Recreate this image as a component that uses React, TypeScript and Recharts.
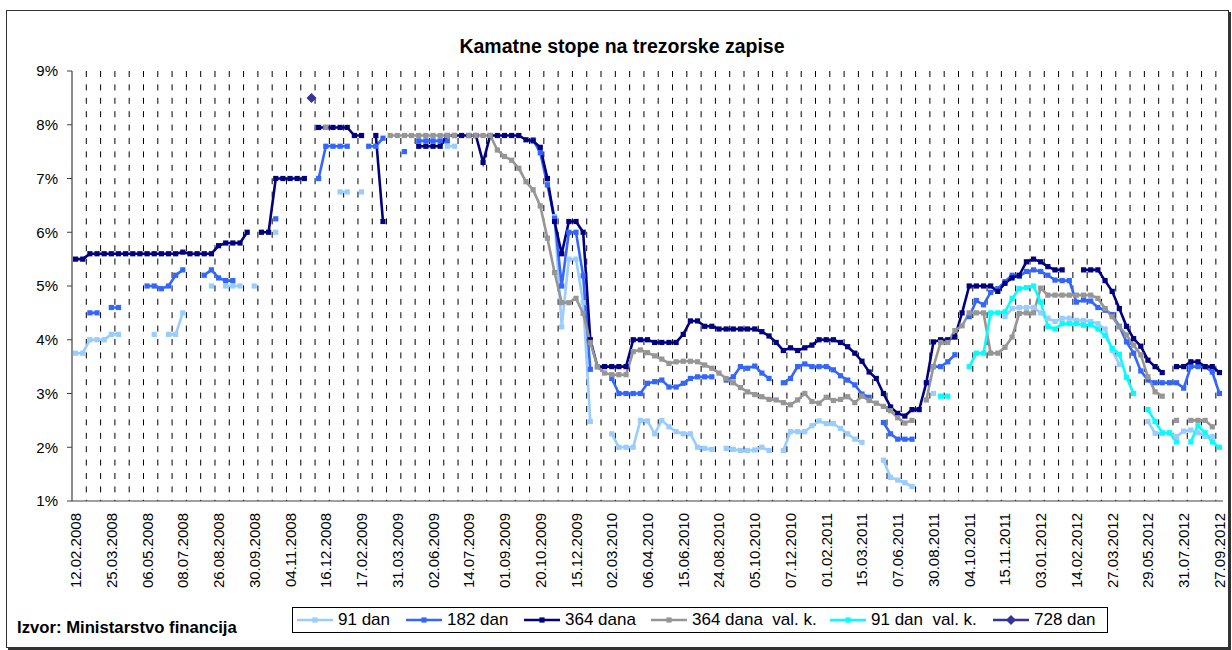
import React from 'react';
import { LineChart, Line, XAxis, YAxis, ReferenceLine } from 'recharts';

// Category axis: auction dates; every 5th category carries a label
const tickLabels = [
  '12.02.2008', '25.03.2008', '06.05.2008', '08.07.2008', '26.08.2008', '30.09.2008',
  '04.11.2008', '16.12.2008', '17.02.2009', '31.03.2009', '02.06.2009', '14.07.2009',
  '01.09.2009', '20.10.2009', '15.12.2009', '02.03.2010', '06.04.2010', '15.06.2010',
  '24.08.2010', '05.10.2010', '07.12.2010', '01.02.2011', '15.03.2011', '07.06.2011',
  '30.08.2011', '04.10.2011', '15.11.2011', '03.01.2012', '14.02.2012', '27.03.2012',
  '29.05.2012', '31.07.2012', '27.09.2012',
];
const CATEGORY_COUNT = 161;
const yTicks = [1, 2, 3, 4, 5, 6, 7, 8, 9];

const _ = null;

const s91: (number | null)[] = [
  3.75, 3.75, 4.0, 4.0, 4.0, 4.1, 4.1, _, _, _,
  _, 4.1, _, 4.1, 4.1, 4.5, _, _, _, 5.0,
  _, 5.0, 5.0, 5.0, _, 5.0, _, _, 6.0, _,
  _, _, _, _, _, _, _, 6.75, 6.75, _,
  6.75, _, _, _, _, _, _, _, _, _,
  _, _, 7.6, 7.6, _, _, _, _, _, _,
  _, _, _, _, _, _, 6.9, 6.29, 4.24, 5.5,
  5.5, 4.69, 2.48, _, _, 2.25, 2.0, 2.0, 2.0, 2.5,
  2.49, 2.25, 2.5, 2.38, 2.29, 2.25, 2.25, 2.0, 1.98, 1.96,
  _, 1.98, 1.96, 1.94, 1.94, 1.95, 2.0, 1.94, _, 1.94,
  2.29, 2.29, 2.29, 2.4, 2.49, 2.44, 2.44, 2.35, 2.25, 2.15,
  2.09, _, _, 1.76, 1.44, 1.39, 1.34, 1.27, _, _,
  3.0, _, _, _, _, _, _, _, _, _,
  4.43, 4.58, 4.6, 4.6, 4.6, 4.5, 4.4, 4.34, 4.4, 4.4,
  4.36, 4.36, 4.34, 4.3, 4.2, 3.8, 3.54, _, _, _,
  2.48, 2.26, 2.26, 2.26, 2.2, 2.3, 2.32, 2.27, 2.2, 2.2,
  _,
];

const s182: (number | null)[] = [
  _, _, 4.5, 4.5, _, 4.6, 4.6, _, _, _,
  5.0, 5.0, 4.95, 5.0, 5.2, 5.3, _, _, 5.2, 5.3,
  5.15, 5.1, 5.1, _, _, _, _, _, 6.25, _,
  _, _, _, _, 7.0, 7.6, 7.6, 7.6, 7.6, _,
  _, 7.6, 7.6, 7.75, _, _, 7.5, _, 7.7, 7.7,
  7.7, 7.7, 7.7, _, _, _, _, _, _, _,
  _, _, _, _, 7.72, 7.48, 6.88, 6.26, 5.0, 6.0,
  6.0, 5.19, 3.45, _, _, 3.28, 3.0, 3.0, 3.0, 3.0,
  3.19, 3.22, 3.25, 3.12, 3.12, 3.19, 3.28, 3.31, 3.31, 3.31,
  _, 3.25, 3.31, 3.5, 3.47, 3.51, 3.38, 3.28, _, 3.2,
  3.28, 3.5, 3.55, 3.5, 3.5, 3.5, 3.44, 3.33, 3.25, 3.16,
  2.99, 2.93, _, 2.46, 2.25, 2.15, 2.15, 2.15, _, _,
  3.5, 3.5, 3.59, 3.72, _, 4.43, 4.73, 4.65, 4.88, 4.95,
  5.08, 5.2, 5.18, 5.27, 5.3, 5.27, 5.2, 5.11, 5.1, 5.1,
  4.7, 4.74, 4.72, 4.6, 4.55, 4.47, 4.25, 3.96, 3.75, 3.42,
  3.25, 3.2, 3.2, 3.2, 3.2, 3.1, 3.5, 3.5, 3.5, 3.4,
  3.0,
];

const s364: (number | null)[] = [
  5.5, 5.5, 5.6, 5.6, 5.6, 5.6, 5.6, 5.6, 5.6, 5.6,
  5.6, 5.6, 5.6, 5.6, 5.6, 5.63, 5.6, 5.6, 5.6, 5.6,
  5.75, 5.8, 5.8, 5.8, 6.0, _, 6.0, 6.0, 7.0, 7.0,
  7.0, 7.0, 7.0, _, 7.95, 7.95, 7.95, 7.95, 7.95, 7.8,
  7.8, _, 7.8, 6.2, _, _, _, _, 7.6, 7.6,
  7.6, 7.6, 7.8, 7.8, 7.8, 7.8, 7.8, 7.3, 7.8, 7.8,
  7.8, 7.8, 7.8, 7.72, 7.7, 7.58, 7.0, 6.2, 5.6, 6.2,
  6.2, 6.0, 4.0, 3.5, 3.5, 3.5, 3.5, 3.5, 4.0, 4.0,
  4.0, 3.95, 3.95, 3.95, 3.95, 4.1, 4.35, 4.35, 4.25, 4.25,
  4.2, 4.2, 4.2, 4.2, 4.2, 4.2, 4.15, 4.07, 3.95, 3.8,
  3.85, 3.8, 3.85, 3.9, 4.0, 4.0, 4.0, 3.95, 3.87, 3.75,
  3.6, 3.4, 3.28, 3.0, 2.75, 2.63, 2.58, 2.7, 2.7, 3.2,
  3.96, 4.0, 4.0, 4.05, 4.5, 5.0, 5.0, 5.0, 5.0, 4.9,
  5.05, 5.15, 5.2, 5.45, 5.5, 5.45, 5.36, 5.3, 5.3, _,
  _, 5.3, 5.3, 5.3, 5.1, 4.9, 4.58, 4.25, 4.02, 3.88,
  3.62, 3.5, 3.39, _, 3.5, 3.5, 3.59, 3.59, 3.5, 3.5,
  3.39,
];

const s364fx: (number | null)[] = [
  _, _, _, _, _, _, _, _, _, _,
  _, _, _, _, _, _, _, _, _, _,
  _, _, _, _, _, _, _, _, _, _,
  _, _, _, _, _, 7.95, _, _, _, _,
  _, _, _, _, 7.8, 7.8, 7.8, 7.8, 7.8, 7.8,
  7.8, 7.8, 7.8, 7.8, _, 7.8, 7.8, 7.8, 7.8, 7.53,
  7.41, 7.34, 7.19, 6.94, 6.79, 6.49, 5.89, 5.25, 4.69, 4.69,
  4.77, 4.49, 3.95, 3.5, 3.38, 3.35, 3.35, 3.35, 3.78, 3.81,
  3.76, 3.7, 3.64, 3.56, 3.59, 3.6, 3.6, 3.59, 3.53, 3.47,
  3.38, 3.28, 3.2, 3.11, 3.03, 2.98, 2.94, 2.89, 2.88, 2.83,
  2.79, 2.88, 3.0, 2.85, 2.82, 2.93, 2.87, 2.89, 2.94, 2.83,
  2.95, 2.87, 2.82, 2.76, 2.68, 2.55, 2.45, 2.5, _, 2.88,
  3.5, 3.95, 3.95, 4.17, 4.26, 4.5, 4.5, 4.5, 3.75, 3.75,
  3.86, 4.05, 4.49, 4.5, 4.5, 4.96, 4.83, 4.83, 4.83, 4.83,
  4.83, 4.83, 4.83, 4.77, 4.58, 4.43, 4.24, 4.09, 3.9, 3.72,
  3.31, 3.03, 2.95, _, 2.5, _, 2.5, 2.5, 2.5, 2.38,
  _,
];

const s91fx: (number | null)[] = [
  _, _, _, _, _, _, _, _, _, _,
  _, _, _, _, _, _, _, _, _, _,
  _, _, _, _, _, _, _, _, _, _,
  _, _, _, _, _, _, _, _, _, _,
  _, _, _, _, _, _, _, _, _, _,
  _, _, _, _, _, _, _, _, _, _,
  _, _, _, _, _, _, _, _, _, _,
  _, _, _, _, _, _, _, _, _, _,
  _, _, _, _, _, _, _, _, _, _,
  _, _, _, _, _, _, _, _, _, _,
  _, _, _, _, _, _, _, _, _, _,
  _, _, _, _, _, _, _, _, _, _,
  _, 2.95, 2.95, _, _, 3.5, 3.75, 3.75, 4.5, 4.5,
  4.52, 4.77, 4.95, 4.97, 5.0, 4.7, 4.25, 4.2, 4.3, 4.3,
  4.3, 4.27, 4.28, 4.2, 4.08, 3.84, 3.73, 3.3, 3.0, _,
  2.7, 2.48, 2.27, 2.27, 2.1, _, 2.1, 2.4, 2.27, 2.1,
  2.0,
];

// 728-day bill: a single auction
const s728Index = [33];
const s728Value = [8.5];

const categories = Array.from({ length: CATEGORY_COUNT }, (_v, i) => i);
const data = categories.map((i) => {
  const k = s728Index.indexOf(i);
  return {
    x: i + 0.5,
    d91: s91[i] ?? null,
    d182: s182[i] ?? null,
    d364: s364[i] ?? null,
    d364fx: s364fx[i] ?? null,
    d91fx: s91fx[i] ?? null,
    d728: k >= 0 ? s728Value[k] : null,
  };
});

// tick marks / dashed gridlines every second category boundary
const gridTicks = categories.filter((i) => i % 2 === 0);
const gridLinePositions = gridTicks.filter((t) => t > 0);
const labelTicks = tickLabels.map((_l, k) => k * 5 + 0.5);

const series = [
  { key: 'd91', name: '91 dan', color: '#99CCFF', marker: 'square' },
  { key: 'd182', name: '182 dan', color: '#3366FF', marker: 'square' },
  { key: 'd364', name: '364 dana', color: '#000080', marker: 'square' },
  { key: 'd364fx', name: '364 dana  val. k.', color: '#969696', marker: 'square' },
  { key: 'd91fx', name: '91 dan  val. k.', color: '#00FFFF', marker: 'square' },
  { key: 'd728', name: '728 dan', color: '#333399', marker: 'diamond' },
];

// left edge of each legend entry's text
const legendTextLeft = [338, 447, 565, 692, 871, 1034];

const FONT = '"Liberation Sans", Arial, sans-serif';

const makeDot = (color: string, marker: string) => (props: any) => {
  const { cx, cy, value, index } = props;
  if (value == null || cx == null || cy == null || Number.isNaN(cy)) return <g key={`e${index}`} />;
  if (marker === 'diamond') {
    const r = 5;
    return (
      <path
        key={`d${index}`}
        d={`M${cx},${cy - r}L${cx + r},${cy}L${cx},${cy + r}L${cx - r},${cy}Z`}
        fill={color}
      />
    );
  }
  return <rect key={`d${index}`} x={cx - 2.6} y={cy - 2.6} width={5.2} height={5.2} fill={color} />;
};

const DateTick = (props: any) => {
  const { x, y, payload } = props;
  const k = Math.round((payload.value - 0.5) / 5);
  const ty = y + 6;
  return (
    <text
      x={x}
      y={ty}
      transform={`rotate(-90 ${x} ${ty})`}
      textAnchor="end"
      dominantBaseline="central"
      fontSize={15}
      fontFamily={FONT}
      fill="#000"
    >
      {tickLabels[k]}
    </text>
  );
};

const DashedGridLine = (p: any) => {
  const y1 = Math.min(p.y1, p.y2);
  const y2 = Math.max(p.y1, p.y2);
  return (
    <line
      x1={p.x1}
      x2={p.x2}
      y1={y1}
      y2={y2}
      stroke="#000"
      strokeWidth={1}
      strokeDasharray="6 7.4"
    />
  );
};

const LegendIcon = ({ color, marker }: { color: string; marker: string }) => (
  <svg width={36} height={12} style={{ display: 'block' }}>
    <line x1={0} y1={6} x2={36} y2={6} stroke={color} strokeWidth={2.5} />
    {marker === 'diamond' ? (
      <path d="M18,1L23,6L18,11L13,6Z" fill={color} />
    ) : (
      <rect x={15.4} y={3.4} width={5.2} height={5.2} fill={color} />
    )}
  </svg>
);

export default function App() {
  return (
    <div
      style={{
        position: 'absolute',
        left: 0,
        top: 0,
        width: 1232,
        height: 650,
        background: '#fff',
        fontFamily: FONT,
        overflow: 'hidden',
      }}
    >
      <div
        style={{
          position: 'absolute',
          left: 6,
          top: 10,
          width: 1221,
          height: 636,
          border: '1.5px solid #333',
          boxShadow: '2px 2px 0 #333',
        }}
      />
      <div
        style={{
          position: 'absolute',
          left: 0,
          width: 1232,
          top: 34,
          textAlign: 'center',
          fontSize: 19.5,
          fontWeight: 'bold',
          color: '#000',
          paddingLeft: 6,
          lineHeight: '24px',
        }}
      >
        Kamatne stope na trezorske zapise
      </div>
      <div style={{ position: 'absolute', left: 0, top: 0 }}>
        <LineChart
          width={1232}
          height={650}
          data={data}
          margin={{ top: 71, right: 9, left: 0, bottom: 53 }}
        >
          <XAxis
            dataKey="x"
            type="number"
            domain={[0, CATEGORY_COUNT]}
            ticks={gridTicks}
            interval={0}
            tick={false}
            tickSize={5}
            height={6}
            axisLine={{ stroke: '#404040', strokeWidth: 1.2 }}
            tickLine={{ stroke: '#404040' }}
            allowDataOverflow
          />
          <XAxis
            xAxisId="lab"
            dataKey="x"
            type="number"
            domain={[0, CATEGORY_COUNT]}
            ticks={labelTicks}
            interval={0}
            axisLine={false}
            tickLine={false}
            tickSize={0}
            tickMargin={0}
            height={90}
            tick={<DateTick />}
            allowDataOverflow
          />
          <YAxis
            type="number"
            domain={[1, 9]}
            ticks={yTicks}
            interval={0}
            width={72}
            tickSize={5}
            tickMargin={9}
            tickFormatter={(v: number) => `${v}%`}
            tick={{ fontSize: 15, fill: '#000', fontFamily: FONT }}
            axisLine={{ stroke: '#404040', strokeWidth: 1.2 }}
            tickLine={{ stroke: '#404040' }}
            allowDataOverflow
          />
          {gridLinePositions.map((t) => (
            <ReferenceLine key={`g${t}`} x={t} shape={DashedGridLine} />
          ))}
          {series.map((s) => (
            <Line
              key={s.key}
              dataKey={s.key}
              name={s.name}
              type="linear"
              stroke={s.color}
              strokeWidth={2.6}
              connectNulls={false}
              dot={makeDot(s.color, s.marker)}
              activeDot={false}
              isAnimationActive={false}
            />
          ))}
        </LineChart>
      </div>
      <div
        style={{
          position: 'absolute',
          left: 292,
          top: 607,
          width: 816,
          height: 26,
          border: '1px solid #000',
          boxSizing: 'border-box',
        }}
      />
      {series.map((s, i) => (
        <React.Fragment key={s.key}>
          <div style={{ position: 'absolute', left: legendTextLeft[i] - 41, top: 614 }}>
            <LegendIcon color={s.color} marker={s.marker} />
          </div>
          <div
            style={{
              position: 'absolute',
              left: legendTextLeft[i],
              top: 610,
              fontSize: 17,
              color: '#000',
              whiteSpace: 'pre',
              lineHeight: '20px',
            }}
          >
            {s.name}
          </div>
        </React.Fragment>
      ))}
      <div
        style={{
          position: 'absolute',
          left: 17,
          top: 618,
          fontSize: 16.7,
          fontWeight: 'bold',
          color: '#000',
          lineHeight: '20px',
        }}
      >
        Izvor: Ministarstvo financija
      </div>
    </div>
  );
}
